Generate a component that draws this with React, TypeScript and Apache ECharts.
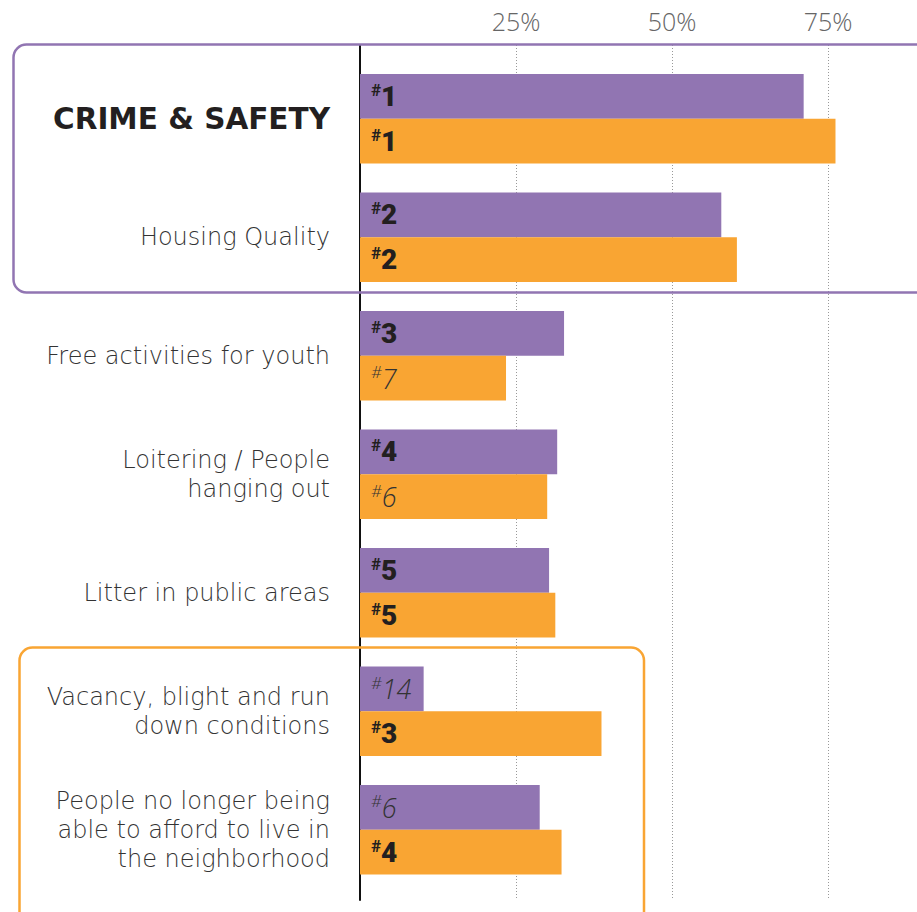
import React, { useEffect, useRef } from "react";
import * as echarts from "echarts";

const categories = [
  "CRIME & SAFETY",
  "Housing Quality",
  "Free activities for youth",
  "Loitering / People\nhanging out",
  "Litter in public areas",
  "Vacancy, blight and run\ndown conditions",
  "People no longer being\nable to afford to live in\nthe neighborhood",
];
const purpleShares = [71.1, 57.9, 32.7, 31.6, 30.3, 10.2, 28.8];
const orangeShares = [76.2, 60.4, 23.4, 30.0, 31.3, 38.7, 32.3];
const purpleRanks = [1, 2, 3, 4, 5, 14, 6];
const orangeRanks = [1, 2, 7, 6, 5, 3, 4];
const axisMax = 100;
const axisStep = 25;

const PURPLE = "#9175b2";
const ORANGE = "#f9a533";
const INK = "#231f20";
const LIGHT_FONT = "Open Sans";
const LABEL_FONT = "DejaVu Sans";

const rankRich = {
  hb: { fontFamily: "Roboto", fontSize: 17, fontWeight: "bold", color: INK, verticalAlign: "top", lineHeight: 18 },
  nb: { fontFamily: "Roboto", fontSize: 28, fontWeight: 900, color: INK, lineHeight: 30 },
  hi: { fontFamily: LIGHT_FONT, fontSize: 17, fontStyle: "italic", fontWeight: 300, color: "#333", verticalAlign: "top", lineHeight: 18 },
  ni: { fontFamily: LIGHT_FONT, fontSize: 27, fontStyle: "italic", fontWeight: 300, color: "#333", lineHeight: 30 },
};

const rankLabel = (ranks: number[]) => (p: any) => {
  const r = ranks[p.dataIndex];
  return r <= 5 ? `{hb|#}{nb|${r}}` : `{hi|#}{ni|${r}}`;
};

export default function App() {
  const ref = useRef<HTMLDivElement>(null);
  useEffect(() => {
    document.body.style.margin = "0";
    const chart = echarts.init(ref.current!, undefined, { renderer: "svg" });
    chart.setOption({
      animation: false,
      backgroundColor: "#fff",
      grid: [
        { left: 360, width: 624, top: 59.5, height: 829.5, outerBoundsMode: "none" },
        { left: 360, width: 624, top: 45, bottom: 12, outerBoundsMode: "none" },
      ],
      xAxis: [
        {
          gridIndex: 0,
          type: "value",
          min: 0,
          max: axisMax,
          interval: axisStep,
          show: false,
        },
        {
          gridIndex: 1,
          type: "value",
          position: "top",
          min: 0,
          max: axisMax,
          interval: axisStep,
          axisLine: { show: false },
          axisTick: { show: false },
          axisLabel: {
            margin: 12,
            fontFamily: LIGHT_FONT,
            fontWeight: 300,
            fontSize: 25,
            color: "#666",
            formatter: (v: number) => (v === 0 || v === axisMax ? "" : `${v}%`),
          },
          splitLine: { show: true, lineStyle: { color: "#999", type: [1, 2], width: 1 } },
        },
      ],
      yAxis: [
        {
          gridIndex: 0,
          type: "category",
          inverse: true,
          data: categories,
          axisLine: { show: false },
          axisTick: { show: false },
          axisLabel: {
            margin: 30,
            fontFamily: LABEL_FONT,
            fontWeight: 200,
            fontSize: 24,
            lineHeight: 29,
            color: "#333",
            formatter: (v: string) => (v === categories[0] ? `{hl|${v}}` : v),
            rich: {
              hl: { fontFamily: "DejaVu Sans", fontWeight: "bold", fontSize: 29.5, color: INK },
            },
          },
        },
        {
          gridIndex: 1,
          type: "value",
          axisLine: { show: true, lineStyle: { color: "#111", width: 2 } },
          axisTick: { show: false },
          axisLabel: { show: false },
          splitLine: { show: false },
        },
      ],
      series: [
        {
          name: "Ranking A",
          type: "bar",
          xAxisIndex: 0,
          yAxisIndex: 0,
          data: purpleShares,
          barGap: "0%",
          barCategoryGap: "24.6%",
          itemStyle: { color: PURPLE },
          label: { show: true, position: "insideLeft", distance: 11, formatter: rankLabel(purpleRanks), rich: rankRich },
        },
        {
          name: "Ranking B",
          type: "bar",
          xAxisIndex: 0,
          yAxisIndex: 0,
          data: orangeShares,
          barGap: "0%",
          barCategoryGap: "24.6%",
          itemStyle: { color: ORANGE },
          label: { show: true, position: "insideLeft", distance: 11, formatter: rankLabel(orangeRanks), rich: rankRich },
        },
      ],
      graphic: [
        {
          type: "rect",
          z: 10,
          shape: { x: 13.5, y: 44.5, width: 1000, height: 248, r: 13 },
          style: { fill: "none", stroke: PURPLE, lineWidth: 2.5 },
        },
        {
          type: "rect",
          z: 10,
          shape: { x: 19.5, y: 647.5, width: 624.5, height: 320, r: 13 },
          style: { fill: "none", stroke: ORANGE, lineWidth: 2.5 },
        },
      ],
    });
    return () => chart.dispose();
  }, []);
  return <div ref={ref} style={{ width: 917, height: 912 }} />;
}
